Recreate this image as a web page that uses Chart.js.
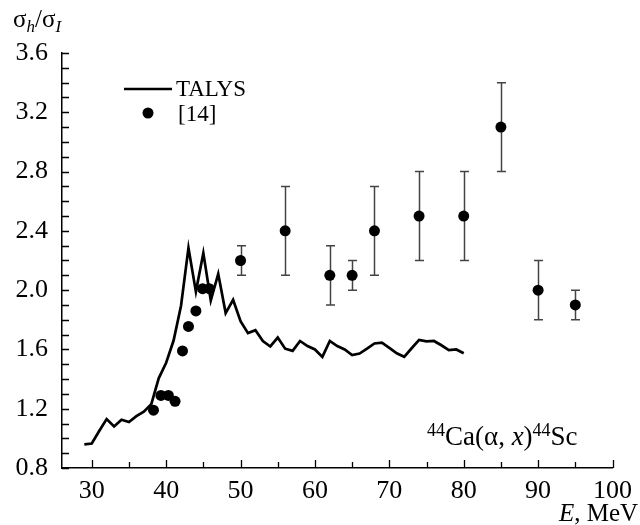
<!DOCTYPE html>
<html>
<head>
<meta charset="utf-8">
<script src="https://cdn.jsdelivr.net/npm/chart.js@4.4.0/dist/chart.umd.min.js"></script>
<style>
  html, body { margin: 0; padding: 0; background: #fff; }
  #wrap { width: 640px; height: 525px; }
</style>
</head>
<body>
<div id="wrap"><canvas id="chart" width="640" height="525"></canvas></div>
<script>
// TALYS calculation, E in MeV
var talysE = [29, 30, 31, 32, 33, 34, 35, 36, 37, 38, 39, 40, 41, 42, 43, 44, 45, 46, 47, 48, 49, 50,
  51, 52, 53, 54, 55, 56, 57, 58, 59, 60, 61, 62, 63, 64, 65, 66, 67, 68, 69, 70,
  71, 72, 73, 74, 75, 76, 77, 78, 79, 80];
var talysRatio = [0.96, 0.965, 1.05, 1.13, 1.08, 1.125, 1.11, 1.15, 1.18, 1.23, 1.405, 1.51, 1.66, 1.895, 2.285, 1.99, 2.25, 1.93, 2.11, 1.845, 1.935, 1.79,
  1.71, 1.73, 1.657, 1.62, 1.68, 1.605, 1.59, 1.657, 1.623, 1.60, 1.55, 1.657, 1.623, 1.60, 1.562, 1.572, 1.605, 1.64, 1.646, 1.61,
  1.574, 1.55, 1.608, 1.664, 1.655, 1.657, 1.628, 1.596, 1.60, 1.574];

// experiment [14]
var expE = [38.3, 39.3, 40.3, 41.2, 42.2, 43.0, 44.0, 44.9, 45.8, 50, 56, 62, 65, 68, 74, 80, 85, 90, 95];
var expRatio = [1.19, 1.29, 1.29, 1.25, 1.59, 1.755, 1.86, 2.01, 2.01, 2.2, 2.4, 2.1, 2.1, 2.4, 2.5, 2.5, 3.1, 2.0, 1.9];
var expErr = [0, 0, 0, 0, 0, 0, 0, 0, 0, 0.1, 0.3, 0.2, 0.1, 0.3, 0.3, 0.3, 0.3, 0.2, 0.1];

var xTicks = [30, 35, 40, 45, 50, 55, 60, 65, 70, 75, 80, 85, 90, 95, 100];
var yTicks = [0.8, 0.9, 1.0, 1.1, 1.2, 1.3, 1.4, 1.5, 1.6, 1.7, 1.8, 1.9, 2.0, 2.1, 2.2, 2.3, 2.4, 2.5, 2.6, 2.7, 2.8, 2.9, 3.0, 3.1, 3.2, 3.3, 3.4, 3.5, 3.6];

var SERIF = '"Liberation Serif", "Times New Roman", serif';

function pts(xs, ys) {
  return xs.map(function (x, i) { return { x: x, y: ys[i] }; });
}

// inward tick marks
var tickMarks = {
  id: 'tickMarks',
  afterDraw: function (chart) {
    var ctx = chart.ctx, xs = chart.scales.x, ys = chart.scales.y;
    var a = chart.chartArea;
    ctx.save();
    ctx.strokeStyle = '#000';
    ctx.lineWidth = 1.3;
    ctx.beginPath();
    xTicks.forEach(function (v) {
      var px = Math.round(xs.getPixelForValue(v)) + 0.5;
      var len = v % 10 === 0 ? 8 : 6;
      ctx.moveTo(px, a.bottom);
      ctx.lineTo(px, a.bottom - len);
    });
    yTicks.forEach(function (v) {
      var py = Math.round(ys.getPixelForValue(v)) + 0.5;
      ctx.moveTo(a.left, py);
      ctx.lineTo(a.left + 7, py);
    });
    ctx.stroke();
    ctx.restore();
  }
};

// error bars for [14]
var errorBars = {
  id: 'errorBars',
  beforeDatasetsDraw: function (chart) {
    var ctx = chart.ctx, xs = chart.scales.x, ys = chart.scales.y;
    ctx.save();
    ctx.strokeStyle = '#444';
    ctx.lineWidth = 1.5;
    ctx.beginPath();
    expE.forEach(function (e, i) {
      if (!expErr[i]) return;
      var px = Math.round(xs.getPixelForValue(e)) + 0.5;
      var top = ys.getPixelForValue(expRatio[i] + expErr[i]);
      var bot = ys.getPixelForValue(expRatio[i] - expErr[i]);
      ctx.moveTo(px, top); ctx.lineTo(px, bot);
      ctx.moveTo(px - 4.5, top); ctx.lineTo(px + 4.5, top);
      ctx.moveTo(px - 4.5, bot); ctx.lineTo(px + 4.5, bot);
    });
    ctx.stroke();
    ctx.restore();
  }
};

// text runs: [text, size, italic, dy]
function drawRuns(ctx, x, y, runs) {
  runs.forEach(function (r) {
    ctx.font = (r[2] ? 'italic ' : '') + r[1] + 'px ' + SERIF;
    ctx.fillText(r[0], x, y + (r[3] || 0));
    x += ctx.measureText(r[0]).width;
  });
}

var labels = {
  id: 'labels',
  afterDraw: function (chart) {
    var ctx = chart.ctx;
    ctx.save();
    ctx.fillStyle = '#000';
    ctx.textBaseline = 'alphabetic';
    ctx.textAlign = 'left';

    // y title
    drawRuns(ctx, 13, 27, [['σ', 25], ['h', 17, true, 5], ['/σ', 25], ['I', 17, true, 5]]);
    // x title
    drawRuns(ctx, 559, 521, [['E', 25, true], [', MeV', 25]]);
    // reaction
    drawRuns(ctx, 427, 445, [['44', 18, false, -9], ['Ca(α, ', 27], ['x', 27, true], [')', 27], ['44', 18, false, -9], ['Sc', 27]]);

    // legend
    ctx.strokeStyle = '#000';
    ctx.lineWidth = 2.5;
    ctx.beginPath();
    ctx.moveTo(124, 89);
    ctx.lineTo(172, 89);
    ctx.stroke();
    ctx.beginPath();
    ctx.arc(148, 113, 5.5, 0, Math.PI * 2);
    ctx.fill();
    ctx.font = '23px ' + SERIF;
    ctx.fillText('TALYS', 176, 96);
    ctx.fillText('[14]', 178, 121);
    ctx.restore();
  }
};

new Chart(document.getElementById('chart'), {
  type: 'scatter',
  data: {
    datasets: [
      {
        label: 'TALYS',
        data: pts(talysE, talysRatio),
        showLine: true,
        borderColor: '#000',
        borderWidth: 2.7,
        pointRadius: 0,
        tension: 0
      },
      {
        label: '[14]',
        data: pts(expE, expRatio),
        backgroundColor: '#000',
        borderColor: '#000',
        pointRadius: 5.5,
        borderWidth: 0
      }
    ]
  },
  options: {
    responsive: false,
    animation: false,
    devicePixelRatio: 1,
    layout: { padding: { left: 0, top: 53, right: 23, bottom: 0 } },
    plugins: { legend: { display: false }, tooltip: { enabled: false } },
    scales: {
      x: {
        type: 'linear',
        min: 26,
        max: 100,
        afterBuildTicks: function (s) { s.ticks = xTicks.map(function (v) { return { value: v }; }); },
        afterFit: function (s) { s.height = 57; },
        grid: { display: false, drawTicks: false },
        border: { display: true, color: '#000', width: 1.5 },
        ticks: {
          padding: 8,
          color: '#000',
          font: { family: SERIF, size: 26 },
          maxRotation: 0,
          autoSkip: false,
          callback: function (v) { return v % 10 === 0 ? String(v) : ''; }
        }
      },
      y: {
        type: 'linear',
        min: 0.8,
        max: 3.6,
        afterBuildTicks: function (s) { s.ticks = yTicks.map(function (v) { return { value: v }; }); },
        afterFit: function (s) { s.width = 62; },
        grid: { display: false, drawTicks: false },
        border: { display: true, color: '#000', width: 1.5 },
        ticks: {
          padding: 14,
          color: '#000',
          font: { family: SERIF, size: 26 },
          autoSkip: false,
          callback: function (v) {
            var k = Math.round(v * 10);
            return k % 4 === 0 ? (k / 10).toFixed(1) : '';
          }
        }
      }
    }
  },
  plugins: [errorBars, tickMarks, labels]
});
</script>
</body>
</html>
